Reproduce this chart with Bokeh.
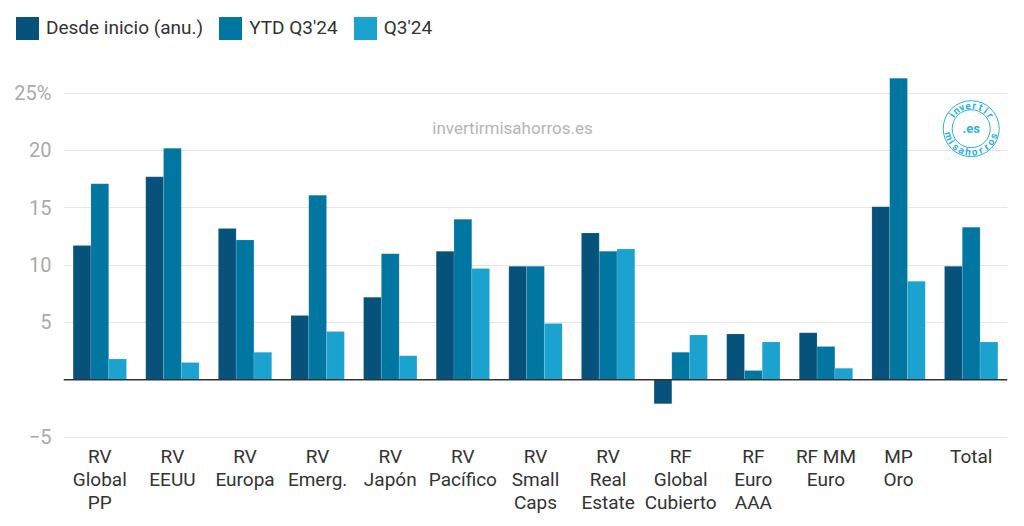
import math
from bokeh.plotting import figure
from bokeh.layouts import column
from bokeh.models import (ColumnDataSource, FactorRange, Range1d, FixedTicker, Span, Div)
from bokeh.transform import dodge
from bokeh.core.properties import value
from bokeh.embed import file_html
from bokeh.resources import INLINE

categories = ["RV\nGlobal\nPP", "RV\nEEUU", "RV\nEuropa", "RV\nEmerg.", "RV\nJapón",
              "RV\nPacífico", "RV\nSmall\nCaps", "RV\nReal\nEstate", "RF\nGlobal\nCubierto",
              "RF\nEuro\nAAA", "RF MM\nEuro", "MP\nOro", "Total"]
desde_inicio = [11.7, 17.7, 13.2, 5.6, 7.2, 11.2, 9.9, 12.8, -2.1, 4.0, 4.1, 15.1, 9.9]
ytd_q3_24 = [17.1, 20.2, 12.2, 16.1, 11.0, 14.0, 9.9, 11.2, 2.4, 0.8, 2.9, 26.3, 13.3]
q3_24 = [1.8, 1.5, 2.4, 4.2, 2.1, 9.7, 4.9, 11.4, 3.9, 3.3, 1.0, 8.6, 3.3]
series_names = ["Desde inicio (anu.)", "YTD Q3'24", "Q3'24"]
y_ticks = [-5, 0, 5, 10, 15, 20, 25]

colors = ["#07527a", "#0076a1", "#1ba2cf"]
FONT = "Roboto"

src = ColumnDataSource(dict(cat=categories, a=desde_inicio, b=ytd_q3_24, c=q3_24))

p = figure(frame_width=944, frame_height=376, x_range=FactorRange(*categories),
           y_range=Range1d(-5.3, 27.5), output_backend="svg", toolbar_location=None,
           min_border_left=63, min_border_right=16, min_border_bottom=80, min_border_top=8)
p.outline_line_color = None
p.background_fill_color = "white"
p.border_fill_color = "white"

w = 0.245
series_cols = ["a", "b", "c"]
offsets = [-w, 0, w]
for col, off, colr in zip(series_cols, offsets, colors):
    p.vbar(x=dodge("cat", off, range=p.x_range), top=col, width=w, source=src,
           fill_color=colr, line_color="white", line_alpha=0.25, line_width=0.5)

p.add_layout(Span(location=0, dimension="width", line_color="#333333", line_width=1.5))

# axes
p.xgrid.grid_line_color = None
p.ygrid.grid_line_color = "#e6e6e6"
p.ygrid.grid_line_width = 1
p.ygrid.ticker = FixedTicker(ticks=y_ticks)
p.yaxis.ticker = FixedTicker(ticks=y_ticks)
p.yaxis.major_label_overrides = {0: "", 25: "25%", -5: "\u22125"}
p.yaxis.axis_line_color = None
p.yaxis.major_tick_line_color = None
p.yaxis.minor_tick_line_color = None
p.yaxis.major_label_text_color = "#aaaaaa"
p.yaxis.major_label_text_font = FONT
p.yaxis.major_label_text_font_size = "20px"
p.yaxis.major_label_standoff = 6

p.xaxis.axis_line_color = None
p.xaxis.major_tick_line_color = None
p.xaxis.minor_tick_line_color = None
p.xaxis.major_label_text_color = "#333333"
p.xaxis.major_label_text_font = FONT
p.xaxis.major_label_text_font_size = "19px"
p.xaxis.major_label_text_line_height = 1.0
p.xaxis.major_label_standoff = -2
p.xaxis.major_label_orientation = "horizontal"

# watermark
p.text(x=["RV\nSmall\nCaps"], y=[22.0], text=["invertirmisahorros.es"], x_offset=-23,
       text_font=value(FONT), text_font_size="17px", text_color="#b5b5b5",
       text_align="center", text_baseline="middle")

# logo
logo_color = "#2cb0e0"
ly = 21.9
p.scatter(x=["Total"], y=[ly], size=56, fill_color=None, line_color=logo_color, line_width=1)
p.scatter(x=["Total"], y=[ly], size=38, fill_color=None, line_color=logo_color, line_width=1)
p.text(x=["Total"], y=[ly], text=[".es"], text_font=value(FONT), text_font_size="13px",
       text_font_style="bold", text_color=logo_color, text_align="center", text_baseline="middle")

rad = 23.5
top_word = "invertir"
bot_word = "misahorros"
tx, ty, ta = [], [], []
n = len(top_word)
for i, ch in enumerate(top_word):
    th = math.radians(145 - i * (110 / (n - 1)))
    tx.append(rad * math.cos(th)); ty.append(-rad * math.sin(th)); ta.append(th - math.pi / 2)
m = len(bot_word)
for i, ch in enumerate(bot_word):
    th = math.radians(198 + i * (144 / (m - 1)))
    tx.append(rad * math.cos(th)); ty.append(-rad * math.sin(th)); ta.append(th + math.pi / 2)
letters = list(top_word) + list(bot_word)
lsrc = ColumnDataSource(dict(x=["Total"] * len(letters), y=[ly] * len(letters),
                             t=letters, xo=tx, yo=ty, a=ta))
p.text(x="x", y="y", text="t", x_offset="xo", y_offset="yo", angle="a", source=lsrc,
       text_font=value(FONT), text_font_size="10px", text_font_style="bold",
       text_color=logo_color, text_align="center", text_baseline="middle")

# legend strip (HTML) above the chart
parts = []
for i, (name, colr) in enumerate(zip(series_names, colors)):
    ml = "0px" if i == 0 else "16px"
    parts.append(
        f'<span style="display:inline-block;width:23px;height:23px;background:{colr};'
        f'margin-left:{ml};margin-right:7px;"></span><span>{name}</span>')
legend_html = ('<div style="display:flex;align-items:center;height:52px;padding-top:4px;'
               f'padding-left:16px;font-family:{FONT};font-size:19px;color:#333333;'
               'white-space:nowrap;">' + "".join(parts) + '</div>')
lf = Div(text=legend_html, width=1000, height=56, margin=(0, 0, 0, 0))

layout = column(lf, p, spacing=0)
open("out.html", "w").write(file_html(layout, INLINE))
